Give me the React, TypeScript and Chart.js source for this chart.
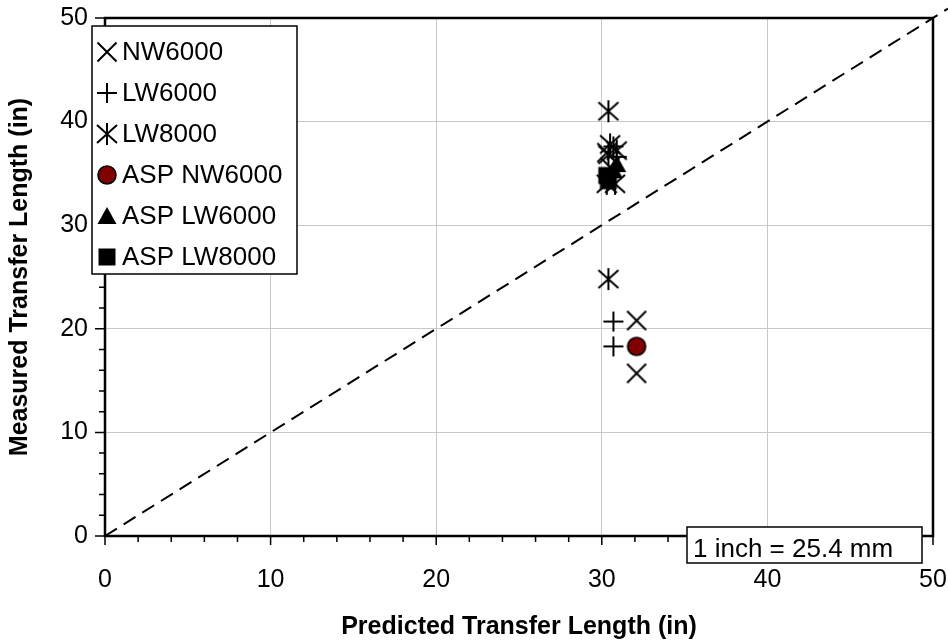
import React, { useEffect, useRef } from 'react';
import { Chart, registerables } from 'chart.js';

Chart.register(...registerables);

const FONT = "'Liberation Sans', Arial, sans-serif";

// ---- data ----
const seriesNames = ['NW6000', 'LW6000', 'LW8000', 'ASP NW6000', 'ASP LW6000', 'ASP LW8000'];

const nw6000X = [30.3, 30.5, 32.1, 32.1];
const nw6000Y = [37.0, 35.6, 20.8, 15.7];

const lw6000X = [30.7, 30.9, 30.7, 30.7];
const lw6000Y = [37.6, 36.6, 20.7, 18.3];

const lw8000X = [30.4, 30.5, 30.9, 30.4, 30.3, 30.8, 30.4];
const lw8000Y = [41.0, 37.8, 37.2, 36.8, 34.0, 34.0, 24.8];

const aspNw6000X = [32.1];
const aspNw6000Y = [18.3];

const aspLw6000X = [30.9, 30.7];
const aspLw6000Y = [35.9, 35.3];

const aspLw8000X = [30.3, 30.4];
const aspLw8000Y = [34.8, 34.3];

const equalityLineX = [0, 50.9];
const equalityLineY = [0, 50.9];

const axisMin = 0;
const axisMax = 50;
const majorStep = 10;
const minorStep = 2;

const xTitle = 'Predicted Transfer Length (in)';
const yTitle = 'Measured Transfer Length (in)';
const noteText = '1 inch = 25.4 mm';

// ---- marker images ----
function makeMarker(kind: string): HTMLCanvasElement {
  const size = 26;
  const c = document.createElement('canvas');
  c.width = size;
  c.height = size;
  const g = c.getContext('2d') as CanvasRenderingContext2D;
  const m = size / 2;
  g.strokeStyle = '#000';
  g.fillStyle = '#000';
  g.lineWidth = 2;
  g.lineCap = 'butt';
  g.beginPath();
  if (kind === 'x') {
    g.moveTo(m - 9.5, m - 9.5); g.lineTo(m + 9.5, m + 9.5);
    g.moveTo(m - 9.5, m + 9.5); g.lineTo(m + 9.5, m - 9.5);
    g.stroke();
  } else if (kind === 'plus') {
    g.moveTo(m - 10, m); g.lineTo(m + 10, m);
    g.moveTo(m, m - 10); g.lineTo(m, m + 10);
    g.stroke();
  } else if (kind === 'star') {
    g.moveTo(m, m - 11); g.lineTo(m, m + 11);
    g.moveTo(m - 10, m - 9); g.lineTo(m + 10, m + 9);
    g.moveTo(m - 10, m + 9); g.lineTo(m + 10, m - 9);
    g.stroke();
  } else if (kind === 'circle') {
    g.arc(m, m, 9, 0, Math.PI * 2);
    g.fillStyle = '#800000';
    g.fill();
    g.lineWidth = 1.6;
    g.stroke();
  } else if (kind === 'triangle') {
    g.moveTo(m, m - 9);
    g.lineTo(m + 9.5, m + 8);
    g.lineTo(m - 9.5, m + 8);
    g.closePath();
    g.fill();
  } else if (kind === 'square') {
    g.rect(m - 8.5, m - 8.5, 17, 17);
    g.fill();
  }
  return c;
}

function pts(xs: number[], ys: number[]) {
  return xs.map((x, i) => ({ x, y: ys[i] }));
}

export default function App() {
  const ref = useRef<HTMLCanvasElement | null>(null);

  useEffect(() => {
    document.body.style.margin = '0';
    const canvas = ref.current;
    if (!canvas) return;

    const markers = ['x', 'plus', 'star', 'circle', 'triangle', 'square'].map(makeMarker);
    const seriesData = [
      pts(nw6000X, nw6000Y),
      pts(lw6000X, lw6000Y),
      pts(lw8000X, lw8000Y),
      pts(aspNw6000X, aspNw6000Y),
      pts(aspLw6000X, aspLw6000Y),
      pts(aspLw8000X, aspLw8000Y),
    ];

    const isMajor = (v: number) => Math.abs(v % majorStep) < 1e-6;

    const framePlugin = {
      id: 'frame',
      beforeDatasetsDraw(chart: any) {
        const { ctx, chartArea: a, scales } = chart;
        ctx.save();
        ctx.strokeStyle = '#000';
        ctx.lineWidth = 1.5;
        ctx.beginPath();
        for (let v = axisMin; v <= axisMax + 1e-6; v += minorStep) {
          const px = scales.x.getPixelForValue(v);
          const len = isMajor(v) ? 9 : 6;
          ctx.moveTo(px, a.bottom);
          ctx.lineTo(px, a.bottom + len);
          const py = scales.y.getPixelForValue(v);
          const leny = isMajor(v) ? 10 : 6;
          ctx.moveTo(a.left, py);
          ctx.lineTo(a.left - leny, py);
        }
        ctx.stroke();
        ctx.lineWidth = 2.5;
        ctx.strokeRect(a.left, a.top, a.right - a.left, a.bottom - a.top);
        ctx.restore();
      },
      afterDraw(chart: any) {
        const { ctx, chartArea: a } = chart;
        ctx.save();
        // legend
        const lx = a.left - 13;
        const ly = a.top + 8;
        const lw = 205;
        const lh = 248;
        ctx.fillStyle = '#fff';
        ctx.fillRect(lx, ly, lw, lh);
        ctx.strokeStyle = '#000';
        ctx.lineWidth = 1.5;
        ctx.strokeRect(lx, ly, lw, lh);
        ctx.font = `26px ${FONT}`;
        ctx.textBaseline = 'middle';
        ctx.textAlign = 'left';
        ctx.fillStyle = '#000';
        seriesNames.forEach((name, i) => {
          const cy = ly + 26 + i * 41;
          const img = markers[i];
          ctx.drawImage(img, lx + 15 - img.width / 2, cy - img.height / 2);
          ctx.fillText(name, lx + 30, cy + 1);
        });
        // note box
        const bw = 235;
        const bh = 36;
        const bx = a.right - 11 - bw;
        const by = a.bottom - 9;
        ctx.fillStyle = '#fff';
        ctx.fillRect(bx, by, bw, bh);
        ctx.strokeRect(bx, by, bw, bh);
        ctx.fillStyle = '#000';
        ctx.textBaseline = 'alphabetic';
        ctx.fillText(noteText, bx + 6, by + 30);
        ctx.restore();
      },
    };

    const tickFont = { family: FONT, size: 25 };
    const gridColor = (c: any) => {
      const v = c.tick ? c.tick.value : 0;
      return isMajor(v) && v > axisMin && v < axisMax ? '#c8c8c8' : 'rgba(0,0,0,0)';
    };
    const noPad = (s: any) => {
      s.paddingLeft = 0;
      s.paddingRight = 0;
      s.paddingTop = 0;
      s.paddingBottom = 0;
    };

    const chart = new Chart(canvas, {
      type: 'scatter',
      data: {
        datasets: [
          ...seriesData.map((d, i) => ({
            label: seriesNames[i],
            data: d,
            pointStyle: markers[i] as any,
            pointRadius: 10,
            order: i === 3 ? 0 : 1,
          })),
          {
            label: 'y = x',
            data: pts(equalityLineX, equalityLineY),
            showLine: true,
            borderColor: '#000',
            borderWidth: 2,
            borderDash: [14, 8],
            pointRadius: 0,
            fill: false,
            clip: false as any,
            order: 10,
          },
        ] as any,
      },
      options: {
        responsive: false,
        animation: false,
        events: [],
        layout: { padding: { left: 0, right: 15, top: 18, bottom: 0 } },
        plugins: { legend: { display: false }, tooltip: { enabled: false } },
        scales: {
          x: {
            type: 'linear',
            min: axisMin,
            max: axisMax,
            ticks: {
              stepSize: minorStep,
              autoSkip: false,
              maxRotation: 0,
              padding: 29,
              color: '#000',
              font: tickFont,
              callback: (v: any) => (isMajor(Number(v)) ? String(v) : ''),
            },
            grid: { drawTicks: false, color: gridColor, lineWidth: 1 },
            border: { display: false },
            title: {
              display: true,
              text: xTitle,
              color: '#000',
              font: { family: FONT, size: 25, weight: 'bold', lineHeight: 1 },
              padding: { top: 0, bottom: 0 },
            },
            afterFit: (s: any) => { s.height = 104; noPad(s); },
          },
          y: {
            type: 'linear',
            min: axisMin,
            max: axisMax,
            ticks: {
              stepSize: minorStep,
              autoSkip: false,
              padding: 17,
              color: '#000',
              font: tickFont,
              callback: (v: any) => (isMajor(Number(v)) ? String(v) : ''),
            },
            grid: { drawTicks: false, color: gridColor, lineWidth: 1 },
            border: { display: false },
            title: {
              display: true,
              text: yTitle,
              color: '#000',
              font: { family: FONT, size: 25, weight: 'bold', lineHeight: 1 },
              padding: { top: 8, bottom: 0 },
            },
            afterFit: (s: any) => { s.width = 105; noPad(s); },
          },
        },
      } as any,
      plugins: [framePlugin],
    });

    return () => chart.destroy();
  }, []);

  return (
    <div style={{ width: 948, height: 640, position: 'relative' }}>
      <canvas ref={ref} width={948} height={640} style={{ display: 'block' }} />
    </div>
  );
}
